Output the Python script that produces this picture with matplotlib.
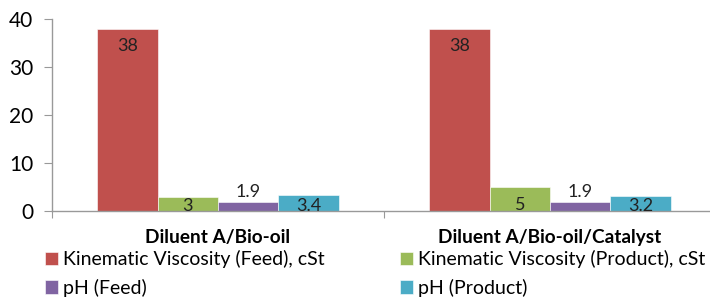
import matplotlib
matplotlib.use("Agg")
import matplotlib.pyplot as plt
import numpy as np

plt.rcParams['font.family'] = ['Lato', 'DejaVu Sans']

categories = ["Diluent A/Bio-oil", "Diluent A/Bio-oil/Catalyst"]
series_names = ["Kinematic Viscosity (Feed), cSt", "Kinematic Viscosity (Product), cSt",
                "pH (Feed)", "pH (Product)"]
kv_feed = [38, 38]
kv_product = [3, 5]
ph_feed = [1.9, 1.9]
ph_product = [3.4, 3.2]
values = [kv_feed, kv_product, ph_feed, ph_product]
colors = ["#C0504D", "#9BBB59", "#8064A2", "#4BACC6"]
yticks = [0, 10, 20, 30, 40]

fig = plt.figure(figsize=(7.10, 2.98), dpi=100)
ax = fig.add_axes([52/710, 1-211/298, (716-52)/710, (211-19)/298])

x = np.arange(len(categories))
bw = 0.1815
offsets = (np.arange(4) - 1.5) * bw
bars = []
for i, (vals, c) in enumerate(zip(values, colors)):
    b = ax.bar(x + offsets[i], vals, width=bw, color=c, edgecolor='white', linewidth=0.4,
               label=series_names[i], clip_on=False)
    bars.append(b)
    for xi, v in zip(x + offsets[i], vals):
        if i == 2:
            ax.annotate(f"{v:g}", (xi, v), xytext=(0, 1), textcoords='offset points',
                        ha='center', va='bottom', fontsize=13, color='#222222')
        else:
            yc = max(v - 3.7, 1.0)
            ax.text(xi, yc, f"{v:g}", ha='center', va='center', fontsize=13, color='#222222')

ax.set_xlim(-0.5, 1.5)
ax.set_ylim(0, 40)
ax.set_yticks(yticks)
ax.set_yticklabels([str(t) for t in yticks], fontsize=15)
ax.set_xticks([-0.5, 0.5, 1.5])
ax.set_xticklabels([])
ax.tick_params(axis='x', length=5, color='#999999', direction='out')
ax.tick_params(axis='y', length=5.5, color='#999999', direction='out', pad=8)
for sp in ['top', 'right']:
    ax.spines[sp].set_visible(False)
for sp in ['left', 'bottom']:
    ax.spines[sp].set_color('#999999')
    ax.spines[sp].set_linewidth(1.0)

for xi, cat in zip(x, categories):
    ax.annotate(cat, (xi, 0), xytext=(0, -19), textcoords='offset points',
                ha='center', va='center', fontsize=13.7, fontweight='bold', color='black',
                annotation_clip=False)

h = [bars[0], bars[2], bars[1], bars[3]]
l = [series_names[0], series_names[2], series_names[1], series_names[3]]
fig.legend(h, l, loc='upper left', bbox_to_anchor=(45/710, 1-250/298), ncol=2,
           frameon=False, fontsize=14, handlelength=0.67, handleheight=0.67,
           handletextpad=0.26, columnspacing=3.86, labelspacing=0.55, borderpad=0,
           borderaxespad=0)

fig.savefig("out.png", dpi=100)
